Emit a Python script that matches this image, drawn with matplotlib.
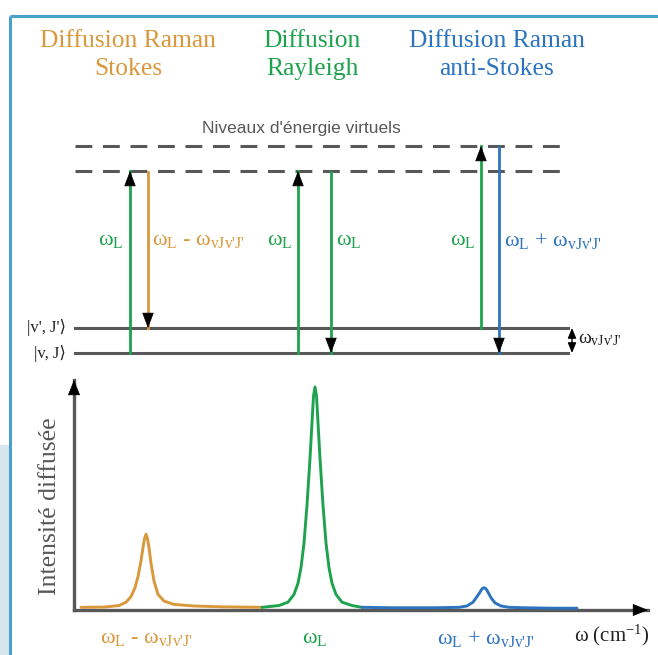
import matplotlib
matplotlib.use('Agg')
import matplotlib.pyplot as plt
import numpy as np

plt.rcParams['font.family'] = ['Liberation Serif', 'DejaVu Serif']
plt.rcParams['mathtext.fontset'] = 'custom'
plt.rcParams['mathtext.rm'] = 'Liberation Serif'
plt.rcParams['mathtext.it'] = 'Liberation Serif:italic'

ORANGE = '#d9983c'
GREEN = '#1ea24e'
BLUE = '#2d74bf'
GREY = '#585858'
FRAME = '#4aa0c9'

# ---- energy diagram (figure pixel units, y down) ----
level_y = [353, 328]                 # |v,J>, |v',J'>
level_names = ["|v, J\u27e9", "|v', J'\u27e9"]
virtual_y = [171, 146]
level_x = [75, 568]

trans_x = [130, 148, 298, 331, 481, 499]
trans_from = [353, 172, 353, 172, 328, 147]
trans_to = [171, 328, 171, 353, 146, 353]
trans_col = [GREEN, ORANGE, GREEN, GREEN, GREEN, BLUE]

WL = r"ω$_\text{L}$"
WV = r"ω$_\text{vJv'J'}$"
trans_labels = [WL, WL + ' - ' + WV, WL, WL, WL, WL + ' + ' + WV]
trans_label_x = [111, 152, 280, 336, 463, 504]
trans_label_ha = ['center', 'left', 'center', 'left', 'center', 'left']

titles = ['Diffusion Raman\nStokes', 'Diffusion\nRayleigh', 'Diffusion Raman\nanti-Stokes']
title_x = [128, 312, 497]
title_col = [ORANGE, GREEN, BLUE]

# ---- spectrum (omega offset from axis origin, normalised intensity) ----
w_stokes = [7, 30, 45, 52, 57, 61, 64, 67, 69, 70.5, 72, 73.5, 75, 77, 80, 84, 90, 100, 120, 150, 188]
i_stokes = [0.012, 0.013, 0.02, 0.035, 0.06, 0.1, 0.15, 0.22, 0.28, 0.32, 0.34, 0.32, 0.28, 0.21,
            0.13, 0.07, 0.04, 0.025, 0.018, 0.014, 0.012]
w_rayl = [188, 205, 214, 220, 224, 227, 230, 233, 236, 238, 239.5, 241, 242.5, 244, 246, 249,
          252, 255, 258, 262, 268, 278, 288]
i_rayl = [0.012, 0.02, 0.035, 0.07, 0.12, 0.19, 0.3, 0.47, 0.68, 0.84, 0.96, 1.0, 0.96, 0.84,
          0.68, 0.47, 0.3, 0.19, 0.12, 0.07, 0.035, 0.02, 0.012]
w_anti = [288, 320, 360, 385, 393, 399, 403, 406, 408, 410, 412, 414, 417, 421, 427, 435, 450, 480, 503]
i_anti = [0.012, 0.01, 0.01, 0.012, 0.018, 0.035, 0.06, 0.08, 0.095, 0.10, 0.095, 0.08, 0.055,
          0.032, 0.018, 0.012, 0.01, 0.008, 0.008]
peak_w = [72, 241, 412]
peak_labels = [WL + ' - ' + WV, WL, WL + ' + ' + WV]
peak_col = [ORANGE, GREEN, BLUE]


def head(ax, tip, tail, ms=10, hl=0.9, hw=0.35, **kw):
    ax.annotate('', xy=tip, xytext=tail,
                arrowprops=dict(arrowstyle='-|>,head_length=%g,head_width=%g' % (hl, hw),
                                color='black', lw=0.5, shrinkA=0, shrinkB=0,
                                mutation_scale=ms), **kw)


fig = plt.figure(figsize=(6.58, 6.55), dpi=100)
ax = fig.add_axes([0, 0, 1, 1])
ax.set_xlim(0, 658)
ax.set_ylim(655, 0)
ax.axis('off')

# frame
ax.add_patch(plt.Rectangle((0, 445), 9, 210, color='#d6e6ef', lw=0))
ax.plot([10, 658], [16, 16], color=FRAME, lw=2.2, solid_capstyle='butt')
ax.plot([10, 10], [16, 655], color=FRAME, lw=2.2, solid_capstyle='butt')

# titles
for t, x, c in zip(titles, title_x, title_col):
    ax.text(x, 55, t, color=c, fontsize=18.4, ha='center', va='center', linespacing=1.38)

# virtual levels
for y in virtual_y:
    ax.plot(level_x, [y, y], color=GREY, lw=2.2, dashes=(5.5, 3.5))
ax.text(301, 129, "Niveaux d'énergie virtuels", family='Liberation Sans', color=GREY,
        fontsize=12.5, ha='center', va='center')

# real levels
for y, n in zip(level_y, level_names):
    ax.plot(level_x, [y, y], color=GREY, lw=2.2)
    ax.text(66, y, n, fontsize=12, ha='right', va='center', color='#222222',
            family=['Liberation Serif', 'DejaVu Sans'])

# transitions
for x, y0, y1, c in zip(trans_x, trans_from, trans_to, trans_col):
    ax.plot([x, x], [y0, y1], color=c, lw=2.0)
    d = 14 if y1 < y0 else -14
    head(ax, (x, y1), (x, y1 + d), hl=1.0, hw=0.38)
for s, x, ha, c in zip(trans_labels, trans_label_x, trans_label_ha, trans_col):
    ax.text(x, 241, s, color=c, fontsize=16, ha=ha, va='center')

# vibrational spacing
ax.annotate('', xy=(572, level_y[1]), xytext=(572, level_y[0]),
            arrowprops=dict(arrowstyle='<|-|>,head_length=0.6,head_width=0.25', color='black',
                            lw=1, shrinkA=0, shrinkB=0, mutation_scale=10))
ax.text(578, 340, WV, fontsize=14, ha='left', va='center', color='#222222')

# ---- spectrum ----
axs = fig.add_axes([74 / 658, 45 / 655, 574 / 658, 230 / 655])
axs.set_xlim(0, 574)
axs.set_ylim(0, 230 / 223)
axs.axis('off')
axs.patch.set_alpha(0)

axs.plot([0, 1], [0, 0], transform=axs.transAxes, color=GREY, lw=2.4, clip_on=False)
axs.plot([0, 0], [0, 1], transform=axs.transAxes, color=GREY, lw=2.4, clip_on=False)
head(axs, (1.0, 0), (1.0 - 0.025, 0), xycoords='axes fraction', textcoords='axes fraction',
     hl=1.0, hw=0.4)
head(axs, (0, 1.0), (0, 1.0 - 0.062), xycoords='axes fraction', textcoords='axes fraction',
     hl=1.0, hw=0.4)

axs.plot(w_stokes, i_stokes, color=ORANGE, lw=2.1, solid_capstyle='round', clip_on=False)
axs.plot(w_rayl, i_rayl, color=GREEN, lw=2.1, solid_capstyle='round', clip_on=False)
axs.plot(w_anti, i_anti, color=BLUE, lw=2.1, solid_capstyle='round', clip_on=False)

for w, s, c in zip(peak_w, peak_labels, peak_col):
    axs.text(w, -0.13, s, color=c, fontsize=16, ha='center', va='center')
axs.text(538, -0.115, r'ω (cm$^{-1}$)', color='#222222', fontsize=15, ha='center', va='center')
axs.text(-0.042, 0.45, 'Intensité diffusée', transform=axs.transAxes, rotation=90,
         color=GREY, fontsize=18.5, ha='center', va='center')

fig.savefig('out.png', dpi=100)
